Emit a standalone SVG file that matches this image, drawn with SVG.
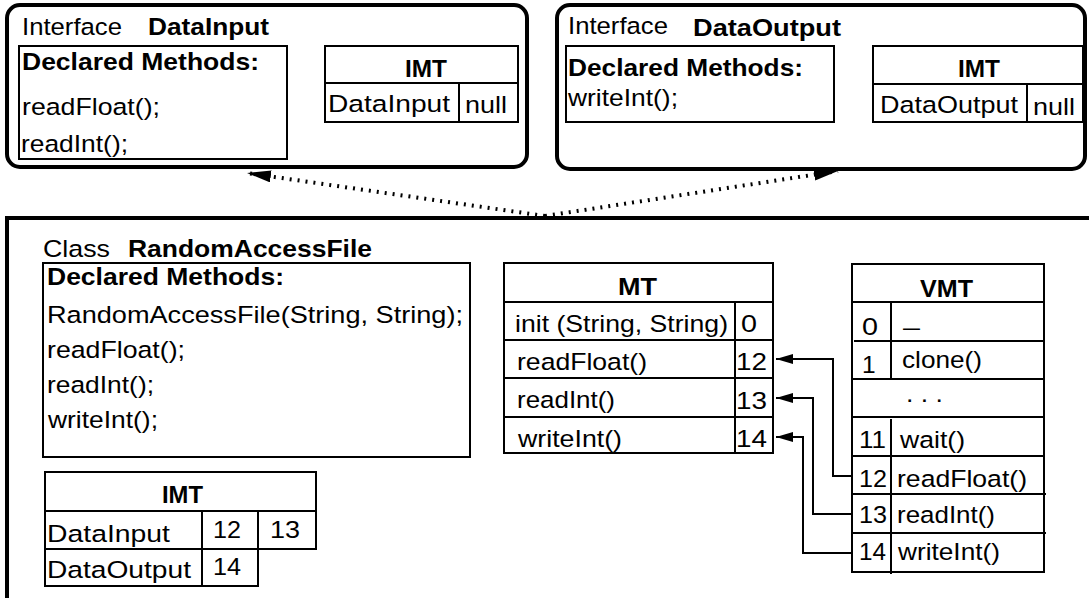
<svg xmlns="http://www.w3.org/2000/svg" width="1089" height="598" viewBox="0 0 1089 598">
<style>
  text { font-family: "Liberation Sans", Arial, Helvetica, sans-serif; font-size: 24.5px; fill: #000; }
  .b { font-weight: bold; }
  .outer { fill: none; stroke: #000; stroke-width: 4; }
  .box { fill: #fff; stroke: #000; stroke-width: 2; }
  .ln { stroke: #000; stroke-width: 2; fill: none; }
  .dot { fill: none; stroke: #000; stroke-width: 4; stroke-dasharray: 2 6; }
  .conn { fill: none; stroke: #000; stroke-width: 2; }
</style>
<defs>
  <marker id="arrowS" markerUnits="userSpaceOnUse" markerWidth="17" markerHeight="10" refX="17" refY="5" orient="auto"><path d="M0,0 L17,5 L0,10 Z" fill="#000"/></marker>
  <marker id="arrowL" markerUnits="userSpaceOnUse" markerWidth="24" markerHeight="12" refX="24" refY="6" orient="auto"><path d="M0,0 L24,6 L0,12 Z" fill="#000"/></marker>
</defs>
<rect width="1089" height="598" fill="#fff"/>

<g id="iface-datainput">
  <rect class="outer" x="7" y="5" width="520" height="162" rx="13"/>
  <text x="22" y="35" textLength="100" lengthAdjust="spacingAndGlyphs">Interface</text>
  <text class="b" x="148" y="35" textLength="121" lengthAdjust="spacingAndGlyphs">DataInput</text>
  <g id="datainput-methods">
    <rect class="box" x="19" y="46" width="268" height="113"/>
    <text class="b" x="22" y="70" textLength="237" lengthAdjust="spacingAndGlyphs">Declared Methods:</text>
    <text x="22" y="115" textLength="138" lengthAdjust="spacingAndGlyphs">readFloat();</text>
    <text x="21" y="152" textLength="107" lengthAdjust="spacingAndGlyphs">readInt();</text>
  </g>
  <g id="datainput-imt">
    <rect class="box" x="325" y="46" width="193" height="76"/>
    <line class="ln" x1="325" y1="83" x2="518" y2="83"/>
    <line class="ln" x1="459" y1="83" x2="459" y2="122"/>
    <text class="b" x="405" y="77" textLength="42" lengthAdjust="spacingAndGlyphs">IMT</text>
    <text x="328" y="112" textLength="122" lengthAdjust="spacingAndGlyphs">DataInput</text>
    <text x="465" y="113" textLength="42" lengthAdjust="spacingAndGlyphs">null</text>
  </g>
</g>

<g id="iface-dataoutput">
  <rect class="outer" x="557" y="5" width="528" height="164" rx="13"/>
  <text x="568" y="34" textLength="100" lengthAdjust="spacingAndGlyphs">Interface</text>
  <text class="b" x="693" y="36" textLength="148" lengthAdjust="spacingAndGlyphs">DataOutput</text>
  <g id="dataoutput-methods">
    <rect class="box" x="566" y="46" width="268" height="76"/>
    <text class="b" x="568" y="76" textLength="235" lengthAdjust="spacingAndGlyphs">Declared Methods:</text>
    <text x="568" y="106" textLength="110" lengthAdjust="spacingAndGlyphs">writeInt();</text>
  </g>
  <g id="dataoutput-imt">
    <rect class="box" x="873" y="46" width="210" height="76"/>
    <line class="ln" x1="873" y1="84" x2="1083" y2="84"/>
    <line class="ln" x1="1027" y1="84" x2="1027" y2="122"/>
    <text class="b" x="958" y="77" textLength="42" lengthAdjust="spacingAndGlyphs">IMT</text>
    <text x="880" y="113" textLength="138" lengthAdjust="spacingAndGlyphs">DataOutput</text>
    <text x="1033" y="115" textLength="42" lengthAdjust="spacingAndGlyphs">null</text>
  </g>
</g>

<g id="class-raf">
  <path class="outer" d="M7,598 V218 H1089"/>
  <text x="43" y="257" textLength="67" lengthAdjust="spacingAndGlyphs">Class</text>
  <text class="b" x="128" y="257" textLength="244" lengthAdjust="spacingAndGlyphs">RandomAccessFile</text>
  <g id="raf-methods">
    <rect class="box" x="43" y="263" width="427" height="194"/>
    <text class="b" x="47" y="285" textLength="237" lengthAdjust="spacingAndGlyphs">Declared Methods:</text>
    <text x="47" y="323" textLength="416" lengthAdjust="spacingAndGlyphs">RandomAccessFile(String, String);</text>
    <text x="47" y="358" textLength="138" lengthAdjust="spacingAndGlyphs">readFloat();</text>
    <text x="47" y="393" textLength="107" lengthAdjust="spacingAndGlyphs">readInt();</text>
    <text x="48" y="428" textLength="110" lengthAdjust="spacingAndGlyphs">writeInt();</text>
  </g>
  <g id="raf-mt">
    <rect class="box" x="504" y="263" width="269" height="190"/>
    <line class="ln" x1="504" y1="302" x2="773" y2="302"/>
    <line class="ln" x1="504" y1="340" x2="773" y2="340"/>
    <line class="ln" x1="504" y1="378" x2="773" y2="378"/>
    <line class="ln" x1="504" y1="417" x2="773" y2="417"/>
    <line class="ln" x1="735" y1="302" x2="735" y2="453"/>
    <text class="b" x="618" y="295" textLength="39" lengthAdjust="spacingAndGlyphs">MT</text>
    <text x="515" y="332" textLength="213" lengthAdjust="spacingAndGlyphs">init (String, String)</text>
    <text x="741" y="332" textLength="16" lengthAdjust="spacingAndGlyphs">0</text>
    <text x="517" y="370" textLength="130" lengthAdjust="spacingAndGlyphs">readFloat()</text>
    <text x="736" y="370" textLength="31" lengthAdjust="spacingAndGlyphs">12</text>
    <text x="517" y="408" textLength="98" lengthAdjust="spacingAndGlyphs">readInt()</text>
    <text x="736" y="409" textLength="31" lengthAdjust="spacingAndGlyphs">13</text>
    <text x="518" y="447" textLength="104" lengthAdjust="spacingAndGlyphs">writeInt()</text>
    <text x="736" y="447" textLength="31" lengthAdjust="spacingAndGlyphs">14</text>
  </g>
  <g id="raf-vmt">
    <rect class="box" x="852" y="264" width="192" height="308"/>
    <line class="ln" x1="852" y1="302" x2="1044" y2="302"/>
    <line class="ln" x1="854" y1="341" x2="1044" y2="341"/>
    <line class="ln" x1="852" y1="379" x2="1044" y2="379"/>
    <line class="ln" x1="852" y1="417" x2="1044" y2="417"/>
    <line class="ln" x1="852" y1="456" x2="1044" y2="456"/>
    <line class="ln" x1="852" y1="494" x2="1046" y2="494"/>
    <line class="ln" x1="852" y1="533" x2="1046" y2="533"/>
    <line class="ln" x1="891" y1="302" x2="891" y2="379"/>
    <line class="ln" x1="891" y1="419" x2="891" y2="574"/>
    <text class="b" x="920" y="297" textLength="53" lengthAdjust="spacingAndGlyphs">VMT</text>
    <text x="862" y="335" textLength="16" lengthAdjust="spacingAndGlyphs">0</text>
    <text x="903" y="335" textLength="17" lengthAdjust="spacingAndGlyphs">–</text>
    <text x="862" y="373">1</text>
    <text x="902" y="368" textLength="80" lengthAdjust="spacingAndGlyphs">clone()</text>
    <text x="906" y="402" textLength="37" lengthAdjust="spacingAndGlyphs">. . .</text>
    <text x="859" y="448" textLength="27" lengthAdjust="spacingAndGlyphs">11</text>
    <text x="900" y="448" textLength="65" lengthAdjust="spacingAndGlyphs">wait()</text>
    <text x="859" y="487" textLength="28" lengthAdjust="spacingAndGlyphs">12</text>
    <text x="897" y="487" textLength="130" lengthAdjust="spacingAndGlyphs">readFloat()</text>
    <text x="859" y="523" textLength="28" lengthAdjust="spacingAndGlyphs">13</text>
    <text x="897" y="523" textLength="98" lengthAdjust="spacingAndGlyphs">readInt()</text>
    <text x="859" y="560" textLength="27" lengthAdjust="spacingAndGlyphs">14</text>
    <text x="898" y="560" textLength="102" lengthAdjust="spacingAndGlyphs">writeInt()</text>
  </g>
  <g id="raf-imt">
    <rect class="box" x="45" y="472" width="271" height="77"/>
    <rect class="box" x="45" y="549" width="213" height="37"/>
    <line class="ln" x1="45" y1="511" x2="316" y2="511"/>
    <line class="ln" x1="202" y1="511" x2="202" y2="586"/>
    <line class="ln" x1="258" y1="511" x2="258" y2="549"/>
    <text class="b" x="162" y="503" textLength="41" lengthAdjust="spacingAndGlyphs">IMT</text>
    <text x="47" y="542" textLength="123" lengthAdjust="spacingAndGlyphs">DataInput</text>
    <text x="213" y="538" textLength="28" lengthAdjust="spacingAndGlyphs">12</text>
    <text x="270" y="538" textLength="30" lengthAdjust="spacingAndGlyphs">13</text>
    <text x="47" y="578" textLength="144" lengthAdjust="spacingAndGlyphs">DataOutput</text>
    <text x="213" y="575" textLength="28" lengthAdjust="spacingAndGlyphs">14</text>
  </g>
</g>

<g id="connectors">
  <path class="dot" d="M545,216 L247,173" marker-end="url(#arrowL)"/>
  <path class="dot" d="M545,216 L838,171" marker-end="url(#arrowL)"/>
  <path class="conn" d="M852,476 H833 V359 H776" marker-end="url(#arrowS)"/>
  <path class="conn" d="M852,514 H813 V398 H776" marker-end="url(#arrowS)"/>
  <path class="conn" d="M852,553 H803 V437 H776" marker-end="url(#arrowS)"/>
</g>
</svg>
